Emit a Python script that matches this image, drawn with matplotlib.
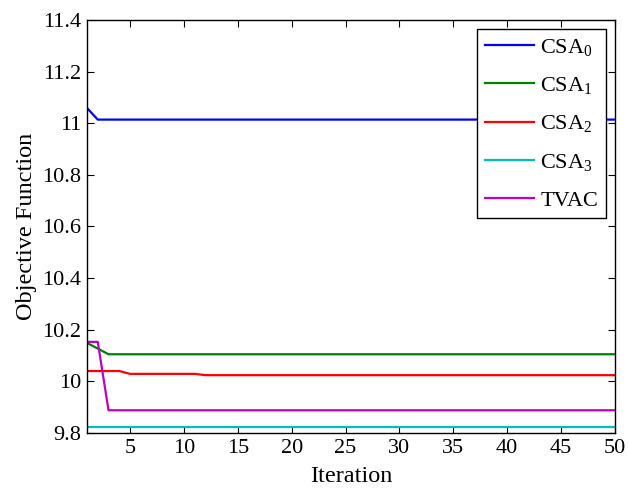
import numpy as np
import matplotlib
matplotlib.use("Agg")
import matplotlib.pyplot as plt

plt.rcParams["font.family"] = ["Liberation Serif", "DejaVu Serif"]
plt.rcParams["mathtext.fontset"] = "custom"
plt.rcParams["mathtext.rm"] = "Liberation Serif"
plt.rcParams["mathtext.it"] = "Liberation Serif:italic"

# ---------- data ----------
iterations = np.arange(1, 51)

csa0 = [11.059] + [11.014] * 49
csa1 = [10.149, 10.127] + [10.105] * 48
csa2 = [10.040] * 4 + [10.029] * 7 + [10.024] * 39
csa3 = [9.823] * 50
tvac = [10.153, 10.153] + [9.888] * 48

series = [
    ("CSA$_0$", csa0, "#0000ff"),
    ("CSA$_1$", csa1, "#008000"),
    ("CSA$_2$", csa2, "#ff0000"),
    ("CSA$_3$", csa3, "#00bfbf"),
    ("TVAC", tvac, "#bf00bf"),
]

fig = plt.figure(figsize=(6.28, 4.99), dpi=100)
ax = fig.add_axes([0.1385, 0.1323, 0.8405, 0.8277])

for label, values, color in series:
    ax.plot(iterations, values, color=color, linewidth=1.6, label=label)

ax.set_xlim(1, 50)
ax.set_ylim(9.8, 11.4)
ax.set_xticks(np.arange(5, 51, 5))
yticks = np.arange(9.8, 11.41, 0.2)
ax.set_yticks(yticks)
ax.set_yticklabels(["%g" % round(t, 1) for t in yticks])

ax.tick_params(direction="in", top=True, right=True, labelsize=16, length=5, pad=4)
for s in ax.spines.values():
    s.set_linewidth(1.0)

ax.set_xlabel("Iteration", fontsize=17.5, labelpad=6)
ax.set_ylabel("Objective Function", fontsize=17.5, labelpad=4)

leg = ax.legend(loc="upper right", fontsize=16, handlelength=2.2,
                handletextpad=0.3, fancybox=False, framealpha=1,
                edgecolor="black", borderaxespad=0.4, labelspacing=0.78,
                borderpad=0.35)
leg.get_frame().set_linewidth(1.0)

fig.savefig("out.png", dpi=100)
